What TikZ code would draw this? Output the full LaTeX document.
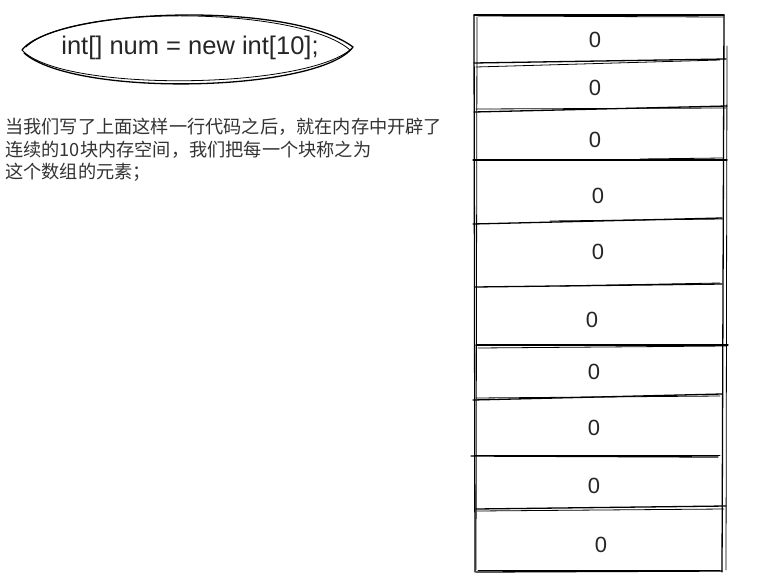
\documentclass[tikz,border=0pt]{standalone}
\usepackage{fontspec}
\setmainfont{Liberation Sans}
\newfontfamily\cjk{Noto Sans CJK SC}
\begin{document}
\begin{tikzpicture}[x=1pt,y=-1pt,
  sk/.style={draw=black,line width=1.3pt,line cap=round,line join=round},
  sk2/.style={draw=black,line width=0.8pt,line cap=round},
  cellval/.style={font=\fontsize{22}{22}\selectfont,text=black!85,inner sep=0pt},
  code/.style={font=\fontsize{25.5}{26}\selectfont,text=black!85,inner sep=0pt},
  note/.style={font=\cjk\fontsize{18.2}{21}\selectfont,text=black!80,align=left,inner sep=0pt,anchor=north west}]
\useasboundingbox[fill=white] (0,0) rectangle (765,586);
% code ellipse
\draw[sk] (22,50) .. controls (55,8) and (290,0) .. (353,47) .. controls (320,92) and (75,98) .. (24,53);
\draw[sk2] (26,47) .. controls (70,4) and (300,6) .. (350,50) .. controls (300,90) and (60,92) .. (22,50);
\node[code] (codetxt) at (190,48) {int[] num = new int[10];};
% explanatory text
\node[note] (notetxt) at (5,118) {当我们写了上面这样一行代码之后，就在内存中开辟了\\[1.5pt]连续的10块内存空间，我们把每一个块称之为\\[1.5pt]这个数组的元素；};
% memory block outline
\draw[sk] (474,15) -- (475,572);
\draw[sk2] (477,17) -- (476,570);
\draw[sk] (474,15) -- (724,15);
\draw[sk2] (478,16) -- (723,17);
\draw[sk] (724,15) -- (722,572);
\draw[sk2] (727,46) -- (726,570);
\draw[sk] (476,572) -- (722,571);
\draw[sk2] (478,570) -- (720,570);
% dividers
\draw[sk] (474,63) -- (726,59);
\draw[sk2] (476,67) -- (720,60);
\draw[sk] (474,112) -- (727,106);
\draw[sk2] (476,109) -- (726,108);
\draw[sk] (473,160) -- (727,160);
\draw[sk2] (640,159) -- (723,158);
\draw[sk] (473,224) -- (722,218);
\draw[sk2] (550,221) -- (723,219);
\draw[sk] (475,287) -- (722,284);
\draw[sk2] (560,286) -- (720,283);
\draw[sk] (476,345) -- (728,345);
\draw[sk2] (478,348) -- (727,346);
\draw[sk] (473,400) -- (722,394);
\draw[sk2] (476,398) -- (720,396);
\draw[sk] (471,456) -- (718,457);
\draw[sk2] (475,455) -- (720,455);
\draw[sk] (476,509) -- (726,506);
\draw[sk2] (477,511) -- (724,509);
% values
\node[cellval] (c0) at (595,40) {0};
\node[cellval] (c1) at (595,88) {0};
\node[cellval] (c2) at (595,140) {0};
\node[cellval] (c3) at (598,196) {0};
\node[cellval] (c4) at (598,252) {0};
\node[cellval] (c5) at (592,320) {0};
\node[cellval] (c6) at (594,372) {0};
\node[cellval] (c7) at (594,428) {0};
\node[cellval] (c8) at (594,486) {0};
\node[cellval] (c9) at (601,545) {0};
\end{tikzpicture}
\end{document}
